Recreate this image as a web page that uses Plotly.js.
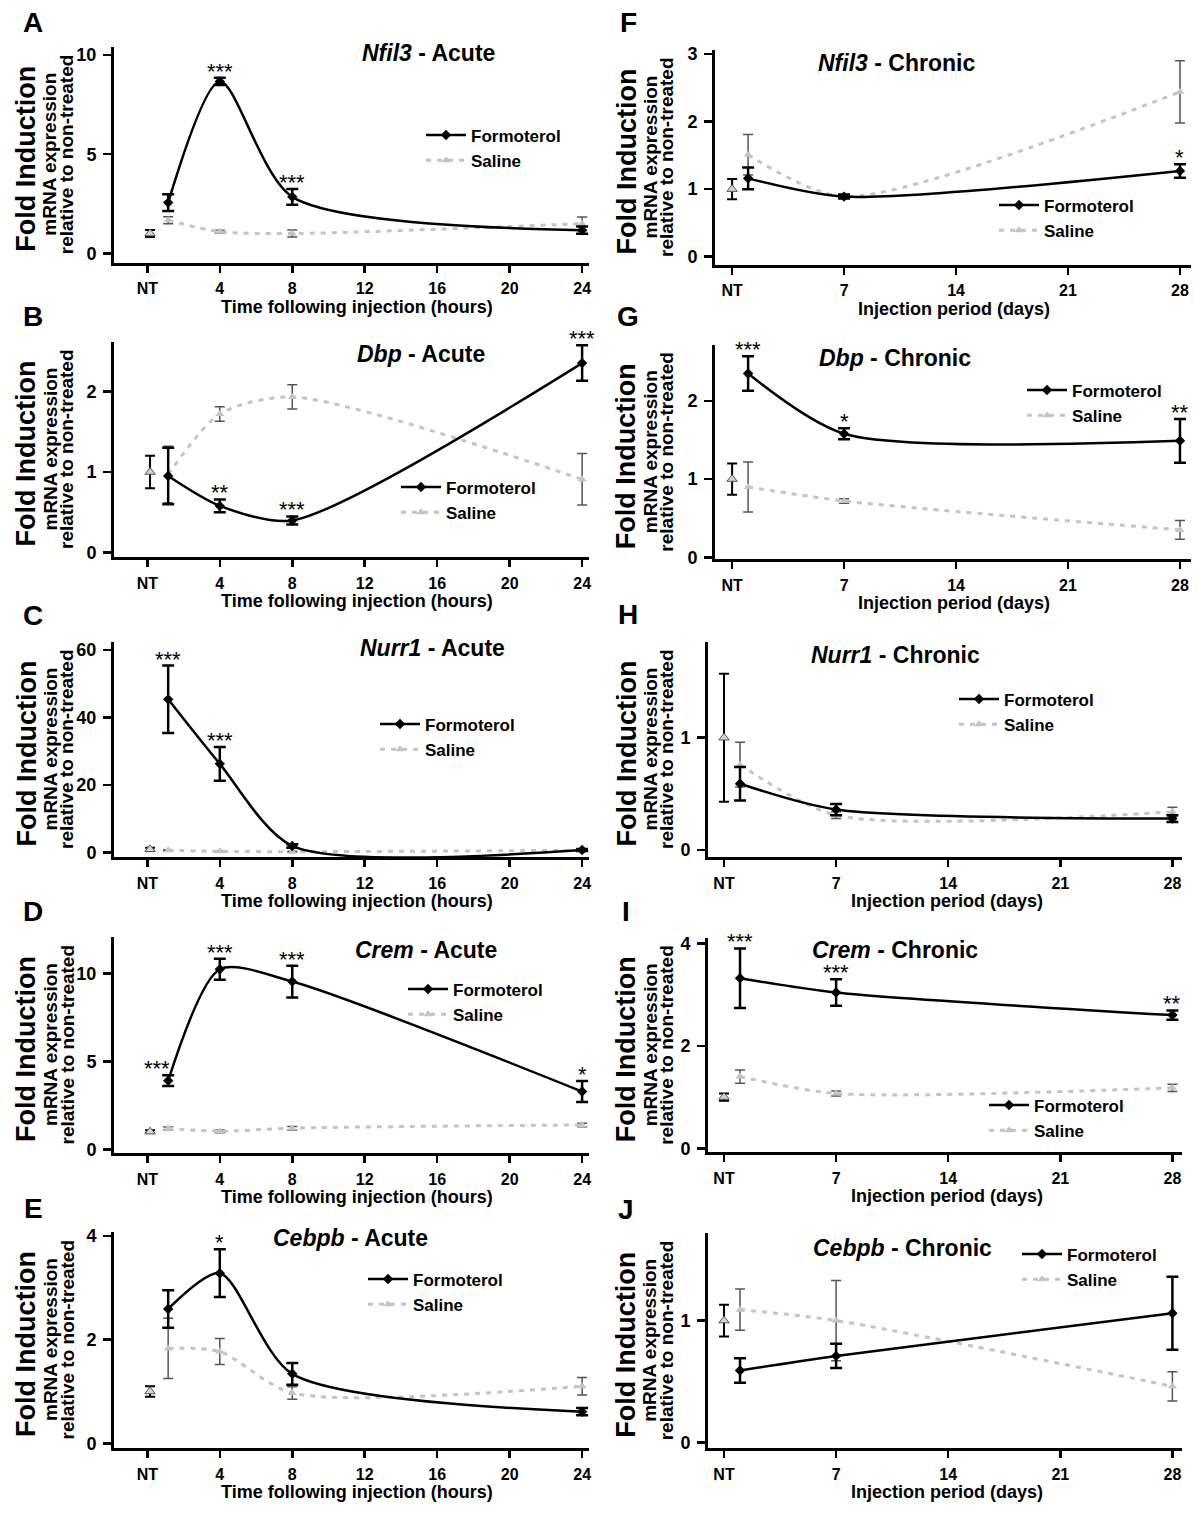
<!DOCTYPE html>
<html><head><meta charset="utf-8">
<script src="https://cdn.plot.ly/plotly-3.0.1.min.js"></script>
<style>html,body{margin:0;padding:0;background:#fff}#chart{width:1200px;height:1517px}</style>
</head><body><div id="chart"></div>
<script>
// ---------- DATA ----------
const acuteX = [1.15, 4, 8, 24];
const chronicX = [1, 7, 28];
const ntAcuteX = 0.15;
const ntChronicX = 0;
const acuteTickVals = [0, 4, 8, 12, 16, 20, 24];
const acuteTickText = ['NT', '4', '8', '12', '16', '20', '24'];
const chronicTickVals = [0, 7, 14, 21, 28];
const chronicTickText = ['NT', '7', '14', '21', '28'];

// A  Nfil3 - Acute
const nfil3AcuteForm = [2.56, 8.67, 2.85, 1.17];
const nfil3AcuteFormErr = [0.42, 0.18, 0.4, 0.18];
const nfil3AcuteSal = [1.67, 1.09, 1.0, 1.5];
const nfil3AcuteSalErr = [0.18, 0.07, 0.18, 0.33];
const nfil3AcuteNT = [1.0, 0.18];
const nfil3AcuteSig = ['', '***', '***', ''];
// B  Dbp - Acute
const dbpAcuteForm = [0.95, 0.58, 0.40, 2.35];
const dbpAcuteFormErr = [0.35, 0.08, 0.05, 0.22];
const dbpAcuteSal = [0.97, 1.72, 1.93, 0.91];
const dbpAcuteSalErr = [0.35, 0.09, 0.15, 0.32];
const dbpAcuteNT = [1.0, 0.2];
const dbpAcuteSig = ['', '**', '***', '***'];
// C  Nurr1 - Acute
const nurr1AcuteForm = [45.4, 26.3, 2.0, 0.8];
const nurr1AcuteFormErr = [10, 5, 0.5, 0.3];
const nurr1AcuteSal = [0.7, 0.4, 0.3, 0.7];
const nurr1AcuteSalErr = [0.2, 0.1, 0.1, 0.2];
const nurr1AcuteNT = [1.0, 0.5];
const nurr1AcuteSig = ['***', '***', '', ''];
// D  Crem - Acute
const cremAcuteForm = [3.9, 10.23, 9.53, 3.28];
const cremAcuteFormErr = [0.3, 0.6, 0.9, 0.6];
const cremAcuteSal = [1.19, 1.02, 1.2, 1.38];
const cremAcuteSalErr = [0.08, 0.08, 0.1, 0.1];
const cremAcuteNT = [1.0, 0.08];
const cremAcuteSig = ['***', '***', '***', '*'];
// E  Cebpb - Acute
const cebpbAcuteForm = [2.59, 3.28, 1.34, 0.61];
const cebpbAcuteFormErr = [0.36, 0.46, 0.21, 0.07];
const cebpbAcuteSal = [1.83, 1.77, 0.97, 1.1];
const cebpbAcuteSalErr = [0.58, 0.25, 0.12, 0.17];
const cebpbAcuteNT = [1.0, 0.1];
const cebpbAcuteSig = ['', '*', '', ''];
// F  Nfil3 - Chronic
const nfil3ChronicForm = [1.16, 0.89, 1.27];
const nfil3ChronicFormErr = [0.16, 0.03, 0.1];
const nfil3ChronicSal = [1.51, 0.89, 2.44];
const nfil3ChronicSalErr = [0.3, 0.03, 0.46];
const nfil3ChronicNT = [1.0, 0.15];
const nfil3ChronicSig = ['', '', '*'];
// G  Dbp - Chronic
const dbpChronicForm = [2.35, 1.58, 1.49];
const dbpChronicFormErr = [0.22, 0.07, 0.28];
const dbpChronicSal = [0.9, 0.72, 0.35];
const dbpChronicSalErr = [0.32, 0.03, 0.12];
const dbpChronicNT = [1.0, 0.2];
const dbpChronicSig = ['***', '*', '**'];
// H  Nurr1 - Chronic
const nurr1ChronicForm = [0.59, 0.36, 0.28];
const nurr1ChronicFormErr = [0.15, 0.05, 0.03];
const nurr1ChronicSal = [0.76, 0.31, 0.34];
const nurr1ChronicSalErr = [0.2, 0.03, 0.04];
const nurr1ChronicNT = [1.0, 0.57];
const nurr1ChronicSig = ['', '', ''];
// I  Crem - Chronic
const cremChronicForm = [3.32, 3.04, 2.6];
const cremChronicFormErr = [0.58, 0.26, 0.09];
const cremChronicSal = [1.4, 1.07, 1.18];
const cremChronicSalErr = [0.13, 0.05, 0.07];
const cremChronicNT = [1.0, 0.07];
const cremChronicSig = ['***', '***', '**'];
// J  Cebpb - Chronic
const cebpbChronicForm = [0.59, 0.71, 1.06];
const cebpbChronicFormErr = [0.1, 0.1, 0.3];
const cebpbChronicSal = [1.09, 1.0, 0.46];
const cebpbChronicSalErr = [0.17, 0.33, 0.12];
const cebpbChronicNT = [1.0, 0.13];
const cebpbChronicSig = ['', '', ''];

// ---------- LAYOUT CONFIG (pixels) ----------
const W = 1200, H = 1517;
const FONT = 'Liberation Sans, Arial, sans-serif';
const fx = px => px / W, fy = px => 1 - px / H;
const LEFT = {left: 114, right: 589, xRange: [-1.84, 24.38], xTitle: 'Time following injection (hours)', titleX: 357, foldX: 26, mrnaX: 50, relX: 66.5};
const RIGHT_FG = {left: 715, right: 1191, xRange: [-1.07, 28.69], xTitle: 'Injection period (days)', titleX: 954, foldX: 626, mrnaX: 650, relX: 666.5};
const RIGHT_HJ = {left: 708, right: 1182, xRange: [-1.0, 28.6], xTitle: 'Injection period (days)', titleX: 947, foldX: 626, mrnaX: 650, relX: 666.5};

const panels = [
  {letter: 'A', letterX: 33, letterY: 23, gene: 'Nfil3', kind: 'Acute', col: LEFT, acute: true,
   form: nfil3AcuteForm, formErr: nfil3AcuteFormErr, sal: nfil3AcuteSal, salErr: nfil3AcuteSalErr, nt: nfil3AcuteNT, sig: nfil3AcuteSig,
   top: 46.7, bottom: 262.7, yRange: [-0.47, 10.42], yTicks: [0, 5, 10], tX: 428, tY: 53, legX: 425, legY: 148},
  {letter: 'B', letterX: 33, letterY: 316, gene: 'Dbp', kind: 'Acute', col: LEFT, acute: true,
   form: dbpAcuteForm, formErr: dbpAcuteFormErr, sal: dbpAcuteSal, salErr: dbpAcuteSalErr, nt: dbpAcuteNT, sig: dbpAcuteSig,
   top: 341.7, bottom: 557.3, yRange: [-0.057, 2.615], yTicks: [0, 1, 2], tX: 421, tY: 354, legX: 400, legY: 500},
  {letter: 'C', letterX: 33, letterY: 615, gene: 'Nurr1', kind: 'Acute', col: LEFT, acute: true,
   form: nurr1AcuteForm, formErr: nurr1AcuteFormErr, sal: nurr1AcuteSal, salErr: nurr1AcuteSalErr, nt: nurr1AcuteNT, sig: nurr1AcuteSig,
   top: 641.7, bottom: 857.3, yRange: [-1.36, 62.46], yTicks: [0, 20, 40, 60], tX: 432, tY: 648, legX: 379, legY: 737},
  {letter: 'D', letterX: 33, letterY: 912, gene: 'Crem', kind: 'Acute', col: LEFT, acute: true,
   form: cremAcuteForm, formErr: cremAcuteFormErr, sal: cremAcuteSal, salErr: cremAcuteSalErr, nt: cremAcuteNT, sig: cremAcuteSig,
   sigShift: [-11, 0, 0, 0],
   top: 936.7, bottom: 1153.3, yRange: [-0.23, 12.08], yTicks: [0, 5, 10], tX: 426, tY: 950, legX: 407, legY: 1002},
  {letter: 'E', letterX: 33, letterY: 1208, gene: 'Cebpb', kind: 'Acute', col: LEFT, acute: true,
   form: cebpbAcuteForm, formErr: cebpbAcuteFormErr, sal: cebpbAcuteSal, salErr: cebpbAcuteSalErr, nt: cebpbAcuteNT, sig: cebpbAcuteSig,
   top: 1231.7, bottom: 1448.3, yRange: [-0.096, 4.08], yTicks: [0, 2, 4], tX: 350, tY: 1238, legX: 367, legY: 1292},
  {letter: 'F', letterX: 628, letterY: 23, gene: 'Nfil3', kind: 'Chronic', col: RIGHT_FG, acute: false,
   form: nfil3ChronicForm, formErr: nfil3ChronicFormErr, sal: nfil3ChronicSal, salErr: nfil3ChronicSalErr, nt: nfil3ChronicNT, sig: nfil3ChronicSig,
   top: 50, bottom: 265, yRange: [-0.123, 3.06], yTicks: [0, 1, 2, 3], tX: 896, tY: 63, legX: 998, legY: 218},
  {letter: 'G', letterX: 628, letterY: 316, gene: 'Dbp', kind: 'Chronic', col: RIGHT_FG, acute: false,
   form: dbpChronicForm, formErr: dbpChronicFormErr, sal: dbpChronicSal, salErr: dbpChronicSalErr, nt: dbpChronicNT, sig: dbpChronicSig,
   top: 345, bottom: 559.3, yRange: [-0.026, 2.715], yTicks: [0, 1, 2], tX: 895, tY: 358, legX: 1026, legY: 403},
  {letter: 'H', letterX: 628, letterY: 614, gene: 'Nurr1', kind: 'Chronic', col: RIGHT_HJ, acute: false,
   form: nurr1ChronicForm, formErr: nurr1ChronicFormErr, sal: nurr1ChronicSal, salErr: nurr1ChronicSalErr, nt: nurr1ChronicNT, sig: nurr1ChronicSig,
   top: 641.7, bottom: 857.3, yRange: [-0.065, 1.855], yTicks: [0, 1], tX: 895, tY: 655, legX: 958, legY: 712},
  {letter: 'I', letterX: 626, letterY: 912, gene: 'Crem', kind: 'Chronic', col: RIGHT_HJ, acute: false,
   form: cremChronicForm, formErr: cremChronicFormErr, sal: cremChronicSal, salErr: cremChronicSalErr, nt: cremChronicNT, sig: cremChronicSig,
   top: 938.3, bottom: 1152.3, yRange: [-0.078, 4.098], yTicks: [0, 2, 4], tX: 895, tY: 950, legX: 988, legY: 1118},
  {letter: 'J', letterX: 626, letterY: 1209, gene: 'Cebpb', kind: 'Chronic', col: RIGHT_HJ, acute: false,
   form: cebpbChronicForm, formErr: cebpbChronicFormErr, sal: cebpbChronicSal, salErr: cebpbChronicSalErr, nt: cebpbChronicNT, sig: cebpbChronicSig,
   top: 1233.3, bottom: 1448.3, yRange: [-0.049, 1.717], yTicks: [0, 1], tX: 902, tY: 1248, legX: 1021, legY: 1267}
];

const data = [];
const annotations = [];
const layout = {
  width: W, height: H, margin: {l: 0, r: 0, t: 0, b: 0},
  paper_bgcolor: '#fff', plot_bgcolor: 'rgba(0,0,0,0)',
  font: {family: FONT, color: '#000'},
  annotations: annotations
};

function ann(x, y, text, size, extra) {
  return Object.assign({x: fx(x), y: fy(y), xref: 'paper', yref: 'paper', text: text, showarrow: false,
    xanchor: 'center', yanchor: 'middle', font: {family: FONT, size: size, color: '#000'}}, extra || {});
}

const SMOOTH = 0.75;

panels.forEach((p, i) => {
  const n = i + 1, s = n === 1 ? '' : String(n);
  const xa = 'x' + s, ya = 'y' + s, leg = 'legend' + s;
  const xs = p.acute ? acuteX : chronicX;
  const col = p.col;

  layout['xaxis' + s] = {
    domain: [fx(col.left), fx(col.right)], range: col.xRange, anchor: ya,
    showline: true, linewidth: 3, linecolor: '#000', ticks: 'outside', ticklen: 7, tickwidth: 2.5, tickcolor: '#000',
    tickmode: 'array', tickvals: p.acute ? acuteTickVals : chronicTickVals, ticktext: p.acute ? acuteTickText : chronicTickText,
    tickfont: {family: FONT, size: 16, weight: 'bold', color: '#000'}, ticklabelstandoff: 2,
    showgrid: false, zeroline: false, fixedrange: true
  };
  layout['yaxis' + s] = {
    domain: [fy(p.bottom), fy(p.top)], range: p.yRange, anchor: xa,
    showline: true, linewidth: 3, linecolor: '#000', ticks: 'outside', ticklen: 8, tickwidth: 2.5, tickcolor: '#000',
    tickmode: 'array', tickvals: p.yTicks,
    tickfont: {family: FONT, size: 18, weight: 'bold', color: '#000'}, ticklabelstandoff: 3,
    showgrid: false, zeroline: false, fixedrange: true
  };
  layout[leg] = {
    x: fx(p.legX - 4), y: fy(p.legY), xanchor: 'left', yanchor: 'middle', xref: 'paper', yref: 'paper',
    bgcolor: 'rgba(0,0,0,0)', borderwidth: 0, itemwidth: 40, tracegroupgap: 0,
    font: {family: FONT, size: 17, weight: 'bold', color: '#000'}
  };

  // NT (non-treated) reference point
  data.push({
    x: [p.acute ? ntAcuteX : ntChronicX], y: [p.nt[0]], xaxis: xa, yaxis: ya, type: 'scatter', mode: 'markers',
    error_y: {type: 'data', array: [p.nt[1]], visible: true, color: '#000', thickness: 2, width: 5},
    marker: {symbol: 'triangle-up', size: 9, color: '#d4d4d4', line: {color: '#555', width: 1}},
    showlegend: false, legend: leg, cliponaxis: false, hoverinfo: 'skip'
  });
  // Saline
  data.push({
    x: xs, y: p.sal, xaxis: xa, yaxis: ya, type: 'scatter', mode: 'lines+markers', name: 'Saline',
    legend: leg, legendrank: 2,
    line: {shape: 'spline', smoothing: SMOOTH, color: '#c4c4c4', width: 3, dash: '5px,6px'},
    marker: {symbol: 'triangle-up', size: 8, color: '#c4c4c4'},
    error_y: {type: 'data', array: p.salErr, visible: true, color: '#555', thickness: 1.5, width: 5},
    cliponaxis: false
  });
  // Formoterol
  data.push({
    x: xs, y: p.form, xaxis: xa, yaxis: ya, type: 'scatter', mode: 'lines+markers', name: 'Formoterol',
    legend: leg, legendrank: 1,
    line: {shape: 'spline', smoothing: SMOOTH, color: '#000', width: 2.5},
    marker: {symbol: 'diamond', size: 8, color: '#000'},
    error_y: {type: 'data', array: p.formErr, visible: true, color: '#000', thickness: 2.5, width: 6},
    cliponaxis: false
  });

  // significance stars
  p.sig.forEach((t, k) => {
    if (!t) return;
    annotations.push({x: xs[k], y: p.form[k] + p.formErr[k], xref: xa, yref: ya, text: t, showarrow: false,
      xanchor: 'center', yanchor: 'bottom', yshift: -8, xshift: p.sigShift ? p.sigShift[k] : 0,
      font: {family: FONT, size: 22, color: '#000'}});
  });

  // panel letter, title, axis titles
  annotations.push(ann(p.letterX, p.letterY, '<b>' + p.letter + '</b>', 28));
  annotations.push(ann(p.tX, p.tY, '<b><i>' + p.gene + '</i> - ' + p.kind + '</b>', 23));
  const yc = (p.top + p.bottom) / 2;
  annotations.push(ann(col.foldX, yc + 4, '<b>Fold Induction</b>', 27, {textangle: -90}));
  annotations.push(ann(col.mrnaX, yc, '<b>mRNA expression</b>', 19, {textangle: -90}));
  annotations.push(ann(col.relX, yc, '<b>relative to non-treated</b>', 19, {textangle: -90}));
  annotations.push(ann(col.titleX, p.bottom + 44, '<b>' + col.xTitle + '</b>', 18));
});

Plotly.newPlot('chart', data, layout, {staticPlot: true, displayModeBar: false});
</script>
</body></html>
